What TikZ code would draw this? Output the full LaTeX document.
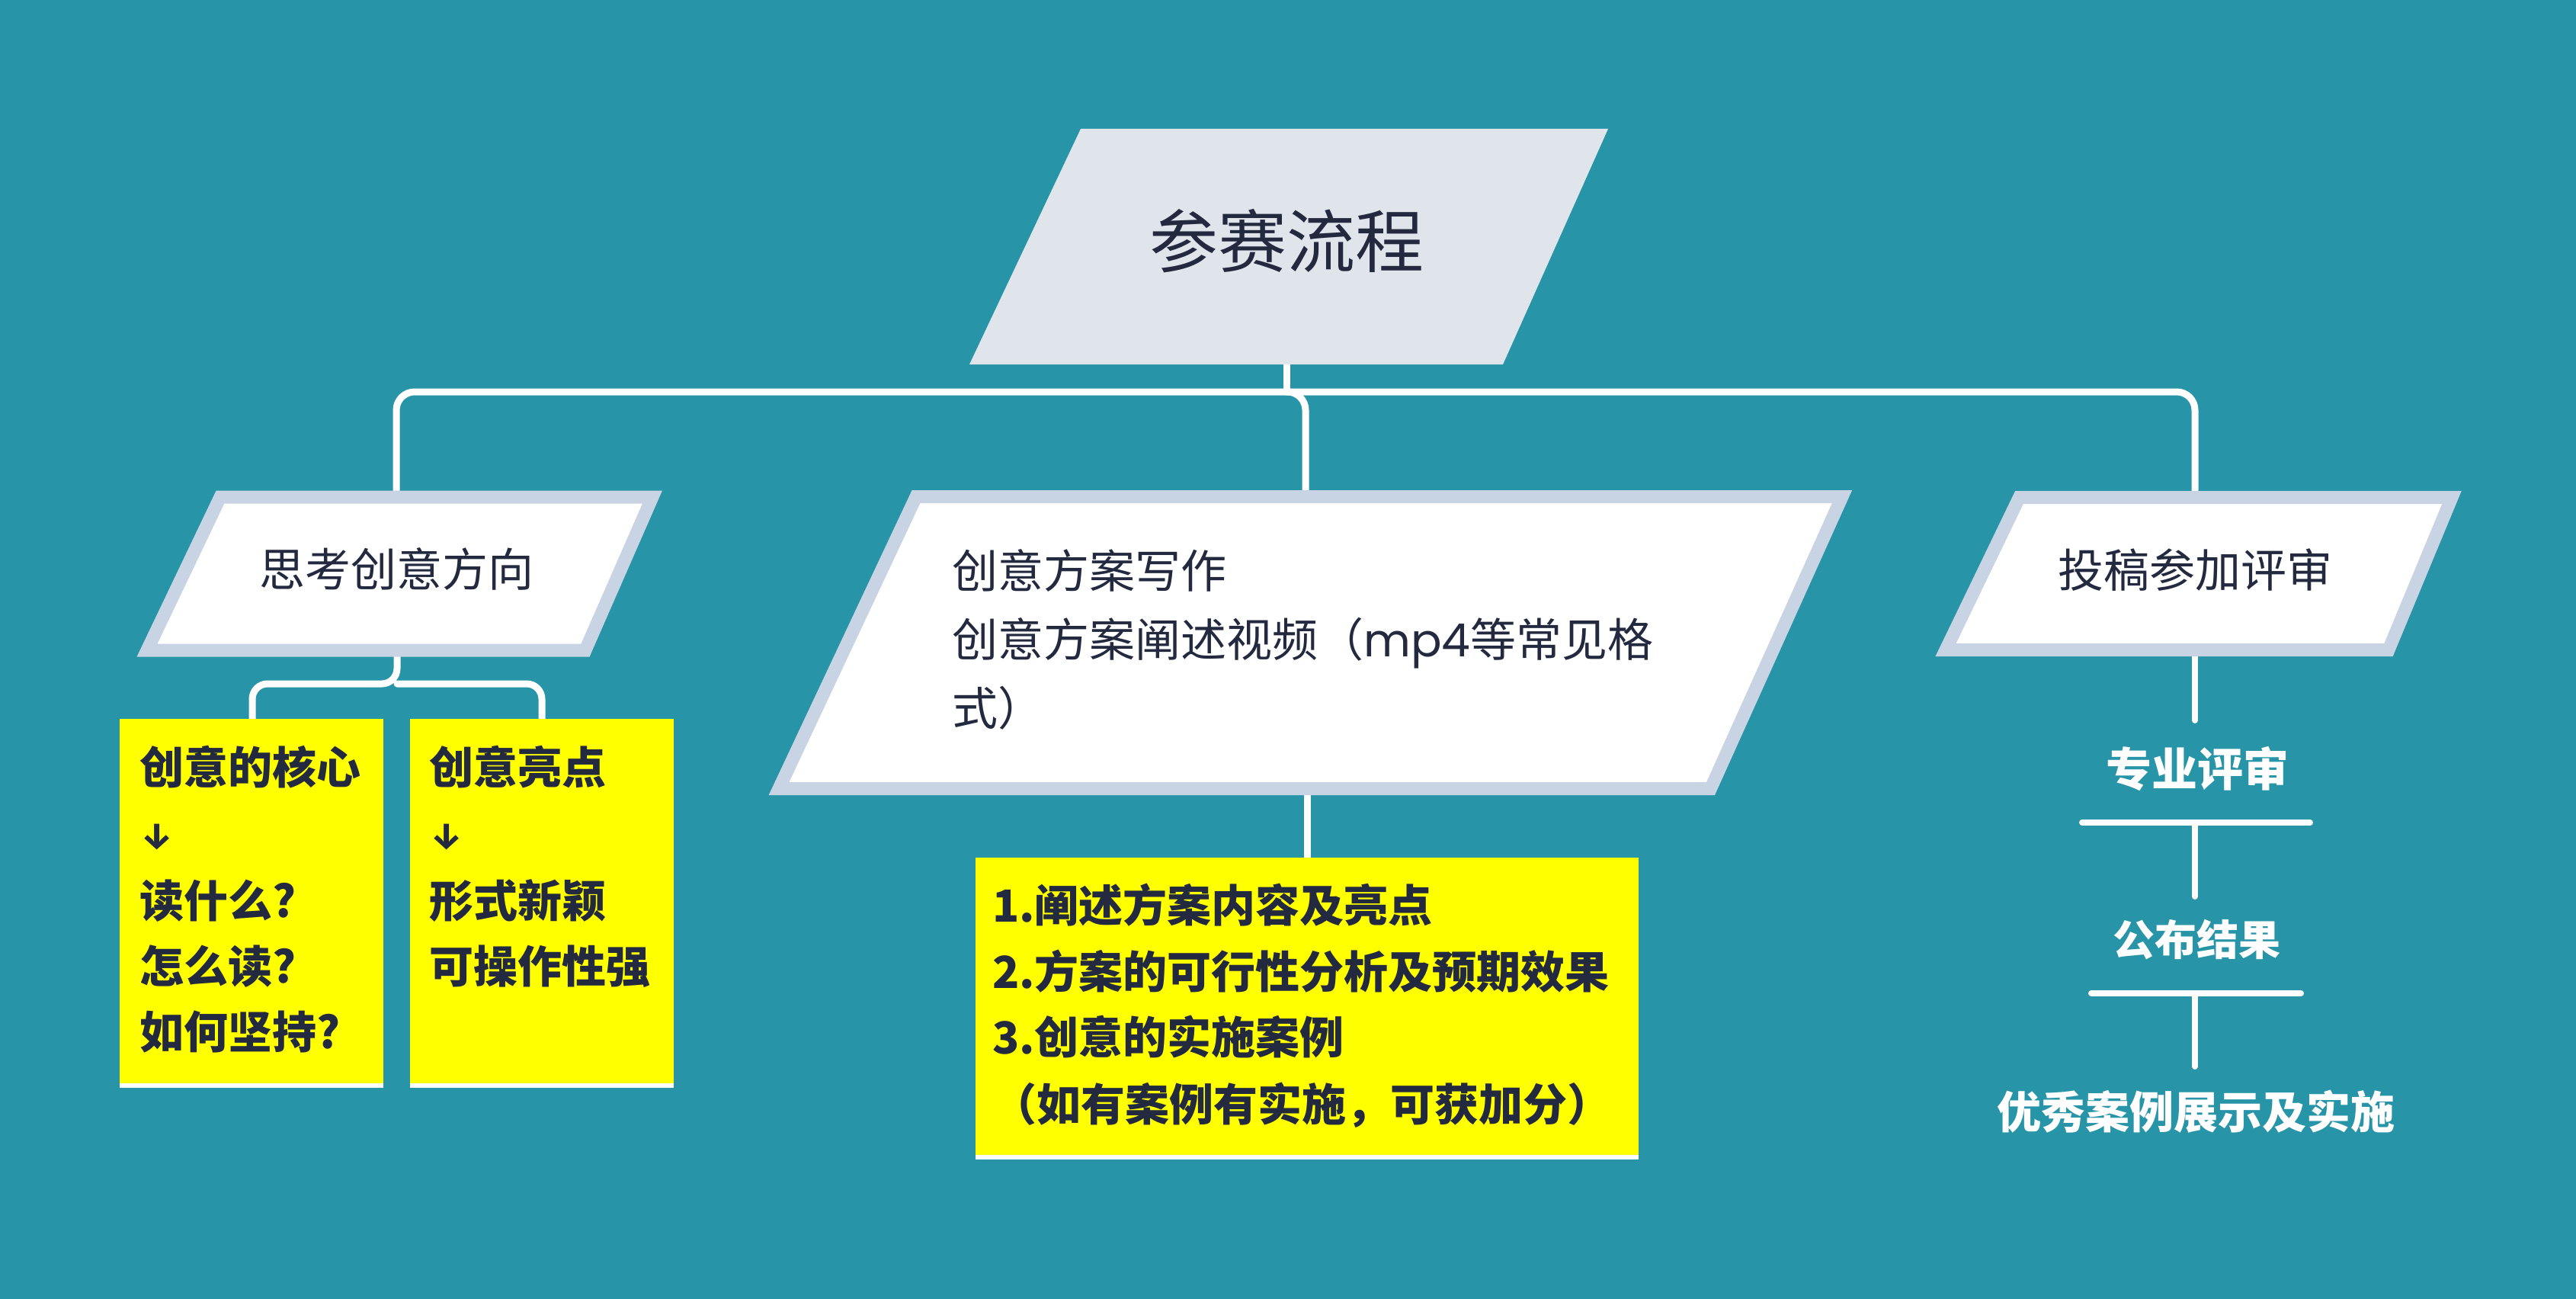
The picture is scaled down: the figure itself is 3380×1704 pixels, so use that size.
\documentclass[tikz,border=0pt]{standalone}
\usepackage{fontspec}
\newfontfamily\cjk{Noto Sans CJK SC}
\newfontfamily\arrowfont{Fira Sans}
\newfontfamily\latfont{Poppins}
\definecolor{bg}{HTML}{2794A8}
\definecolor{topfill}{HTML}{E0E5EC}
\definecolor{edge}{HTML}{C8D3E3}
\definecolor{yel}{HTML}{FFFF00}
\definecolor{ink}{HTML}{232A40}
\tikzset{
  conn/.style={white, line width=9pt, line cap=round, rounded corners=24pt},
  thin/.style={white, line width=8pt, line cap=round},
  pbox/.style={draw=edge, fill=white, line width=17pt, line join=miter},
  ystrip/.style={white, line width=6pt},
  txt/.style={inner sep=0pt, text=ink, anchor=base},
  reg/.style={txt, font=\cjk\fontsize{#1}{#1}\selectfont, yshift={-0.38*#1pt}},
  bld/.style={txt, font=\cjk\bfseries\fontsize{#1}{#1}\selectfont, yshift={-0.38*#1pt}},
  wbld/.style={bld=#1, text=white},
  arr/.style={inner sep=0pt, text=ink, anchor=west, font=\arrowfont\bfseries\fontsize{#1}{#1}\selectfont},
}
\begin{document}
\begin{tikzpicture}[x=1pt,y=-1pt]
\fill[bg] (0,0) rectangle (3380,1704);
\useasboundingbox (0,0) rectangle (3380,1704);

% coordinates
\coordinate (topS) at (1688,478);
\coordinate (j) at (1688,514);
\coordinate (leftN) at (520,643);
\coordinate (midN) at (1713,643);
\coordinate (rightN) at (2880,643);
\coordinate (leftS) at (521,862);
\coordinate (lj) at (521,897);
\coordinate (y1N) at (331,943);
\coordinate (y2N) at (711,943);
\coordinate (midS) at (1715,1043);
\coordinate (y3N) at (1715,1125);
\coordinate (rightS) at (2880,861);
\coordinate (r1) at (2880,945);
\coordinate (r2) at (2880,1079);
\coordinate (r3) at (2880,1176);
\coordinate (r4) at (2880,1303);
\coordinate (r5) at (2880,1399);

% connectors
\draw[conn] (topS) -- (j);
\draw[conn] (j) -- (520,514) -- (leftN);
\draw[conn] (j) -- (2880,514) -- (rightN);
\draw[conn] (j) -- (1713,514) -- (midN);
\draw[conn, rounded corners=20pt] (leftS) -- (lj) -- (331,897) -- (y1N);
\draw[conn, rounded corners=20pt] (lj) -- (711,897) -- (y2N);
\draw[conn] (midS) -- (y3N);
\draw[thin] (rightS) -- (r1);
\draw[thin] (2732,1079) -- (3031,1079);
\draw[thin] (r2) -- (r3);
\draw[thin] (2744,1303) -- (3019,1303);
\draw[thin] (r4) -- (r5);

% top box
\fill[topfill] (1418,169) -- (2110,169) -- (1972,478) -- (1272,478) -- cycle;
\node[reg=90] (top) at (1688,316) {参赛流程};

% parallelogram boxes
\draw[pbox] (289,652) -- (856,652) -- (768,853) -- (193,853) -- cycle;
\node[reg=60] (left) at (520,747) {思考创意方向};

\draw[pbox] (1202,651.5) -- (2417,651.5) -- (2244.5,1034.5) -- (1022,1034.5) -- cycle;
\node[reg=60, anchor=base west] (m1) at (1249,749) {创意方案写作};
\node[reg=60, anchor=base west] (m2) at (1249,839) {创意方案阐述视频（{\latfont mp4}等常见格};
\node[reg=60, anchor=base west] (m3) at (1249,929) {式）};

\draw[pbox] (2649.5,652.5) -- (3217,652.5) -- (3134,852.5) -- (2553,852.5) -- cycle;
\node[reg=60] (right) at (2880,748) {投稿参加评审};

% yellow boxes
\fill[yel] (157,943) rectangle (503,1424);
\draw[ystrip] (157,1424) -- (503,1424);
\fill[yel] (538,943) rectangle (884,1424);
\draw[ystrip] (538,1424) -- (884,1424);
\fill[yel] (1280,1125) rectangle (2150,1518);
\draw[ystrip] (1280,1518) -- (2150,1518);

\node[bld=58, anchor=base west] (a1) at (183,1006) {创意的核心};
\node[arr=48] (a2) at (184,1098) {↓};
\node[bld=58, anchor=base west] (a3) at (183,1181) {读什么?};
\node[bld=58, anchor=base west] (a4) at (183,1267) {怎么读?};
\node[bld=58, anchor=base west] (a5) at (183,1353) {如何坚持?};

\node[bld=58, anchor=base west] (b1) at (563,1006) {创意亮点};
\node[arr=48] (b2) at (564,1098) {↓};
\node[bld=58, anchor=base west] (b3) at (563,1181) {形式新颖};
\node[bld=58, anchor=base west] (b4) at (563,1267) {可操作性强};

\node[bld=58, anchor=base west] (c1) at (1302,1187) {1.阐述方案内容及亮点};
\node[bld=58, anchor=base west] (c2) at (1302,1274) {2.方案的可行性分析及预期效果};
\node[bld=58, anchor=base west] (c3) at (1302,1360) {3.创意的实施案例};
\node[bld=58, anchor=base west] (c4) at (1302,1448) {（如有案例有实施，可获加分）};

% right column
\node[wbld=60] (s1) at (2883,1009) {专业评审};
\node[wbld=55] (s2) at (2882,1233) {公布结果};
\node[wbld=58] (s3) at (2881,1458) {优秀案例展示及实施};
\end{tikzpicture}
\end{document}
